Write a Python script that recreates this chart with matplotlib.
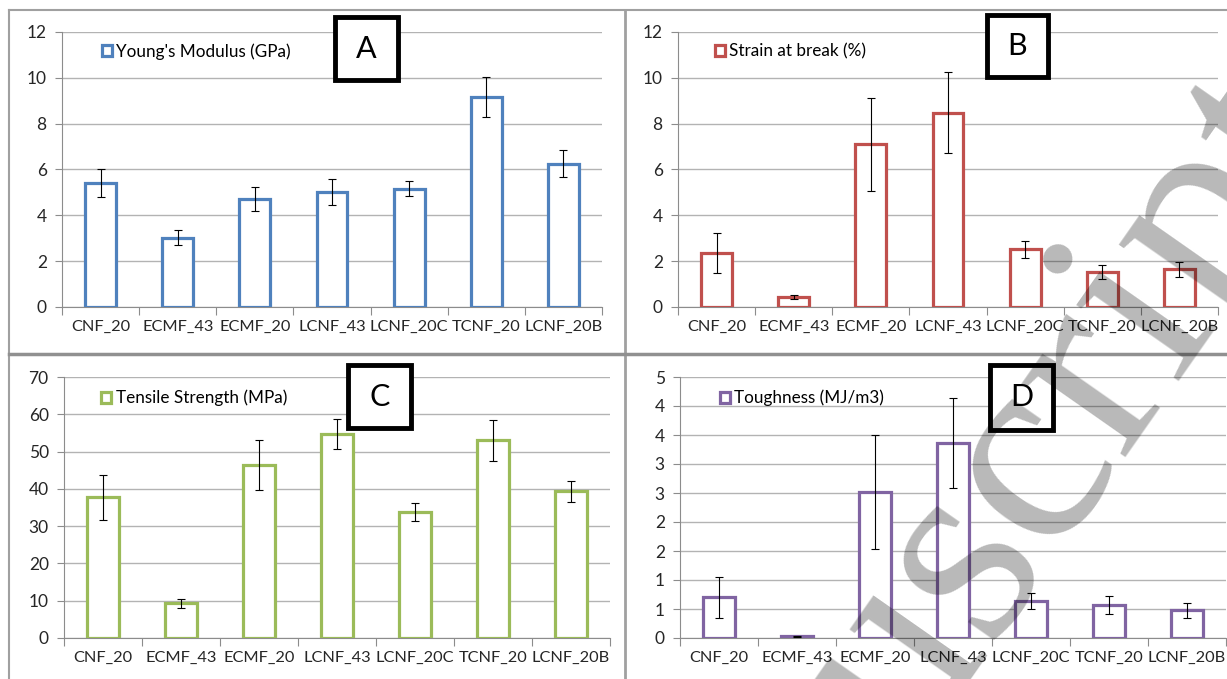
import matplotlib
matplotlib.use("Agg")
import matplotlib.pyplot as plt
from matplotlib.patches import Patch, Rectangle
from matplotlib.lines import Line2D
import numpy as np

categories = ["CNF_20", "ECMF_43", "ECMF_20", "LCNF_43", "LCNF_20C", "TCNF_20", "LCNF_20B"]

youngs = [5.43, 3.03, 4.73, 5.02, 5.16, 9.16, 6.26]
youngs_err = [0.61, 0.31, 0.52, 0.55, 0.33, 0.89, 0.59]

strain = [2.35, 0.44, 7.10, 8.47, 2.52, 1.53, 1.65]
strain_err = [0.87, 0.07, 2.04, 1.77, 0.38, 0.30, 0.32]

tensile = [37.7, 9.3, 46.4, 54.8, 33.9, 53.0, 39.4]
tensile_err = [6.1, 1.2, 6.6, 4.0, 2.4, 5.6, 2.8]

toughness = [0.70, 0.03, 2.52, 3.36, 0.64, 0.57, 0.48]
toughness_err = [0.35, 0.01, 0.98, 0.77, 0.14, 0.15, 0.13]
toughness_ticks = [0, 0.5, 1, 1.5, 2, 2.5, 3, 3.5, 4, 4.5]
toughness_ticklabels = ["0", "1", "1", "2", "2", "3", "3", "4", "4", "5"]

W, H = 1227, 679
FONT = "Lato"
GRID = "#b3b3b3"
AXIS = "#8c8c8c"

fig = plt.figure(figsize=(W / 100, H / 100), dpi=100)
fig.patch.set_facecolor("white")


def px_rect(x0, y0, x1, y1):
    # image pixel box (top-left origin) -> figure fraction [l, b, w, h]
    return [x0 / W, 1 - y1 / H, (x1 - x0) / W, (y1 - y0) / H]


def panel(rect, values, errors, color, label, yticks, yticklabels, legend_xy):
    ax = fig.add_axes(rect)
    x = np.arange(len(categories))
    ax.bar(x, values, width=0.4, facecolor="white", edgecolor=color, linewidth=2.3, zorder=3)
    ax.errorbar(x, values, yerr=errors, fmt="none", ecolor="black", elinewidth=0.8,
                capsize=3, capthick=0.8, zorder=4)
    ax.set_xlim(-0.5, len(categories) - 0.5)
    ax.set_ylim(yticks[0], yticks[-1])
    ax.set_yticks(yticks)
    ax.set_yticklabels(yticklabels)
    ax.set_xticks(np.arange(len(categories) + 1) - 0.5)
    ax.set_xticklabels([])
    ax.set_xticks(x, minor=True)
    ax.set_xticklabels(categories, minor=True)
    ax.tick_params(axis="x", which="major", length=6, color=AXIS, direction="out")
    ax.tick_params(axis="x", which="minor", length=0, pad=9, labelsize=11.8)
    ax.tick_params(axis="y", length=5, color=AXIS, pad=6, labelsize=12.5)
    ax.tick_params(which="both", labelcolor="#262626")
    for t in ax.get_xticklabels(minor=True) + ax.get_yticklabels():
        t.set_family(FONT)
    ax.grid(axis="y", color=GRID, linewidth=1.0, zorder=0)
    ax.set_axisbelow(True)
    for s in ["top", "right"]:
        ax.spines[s].set_visible(False)
    ax.spines["left"].set_color(AXIS)
    ax.spines["bottom"].set_color(AXIS)
    ax.patch.set_alpha(0)
    ax.legend([Patch(facecolor="white", edgecolor=color, linewidth=2.3)], [label],
              loc="center left", bbox_to_anchor=legend_xy, frameon=False,
              handlelength=0.6, handleheight=0.6, handletextpad=0.25,
              prop={"family": FONT, "size": 12.3})
    return ax


panel(px_rect(62, 32, 602, 307), youngs, youngs_err, "#4f81bd",
      "Young's Modulus (GPa)", list(range(0, 13, 2)), [str(v) for v in range(0, 13, 2)], (0.045, 0.93))
panel(px_rect(678, 32, 1218, 307), strain, strain_err, "#c0504d",
      "Strain at break (%)", list(range(0, 13, 2)), [str(v) for v in range(0, 13, 2)], (0.04, 0.93))
panel(px_rect(64, 377, 610, 638), tensile, tensile_err, "#9bbb59",
      "Tensile Strength (MPa)", list(range(0, 71, 10)), [str(v) for v in range(0, 71, 10)], (0.04, 0.92))
panel(px_rect(680, 377, 1226, 638), toughness, toughness_err, "#8064a2",
      "Toughness (MJ/m3)", toughness_ticks, toughness_ticklabels, (0.045, 0.92))


def fig_line(x0, y0, x1, y1, lw, color="#a0a0a0"):
    fig.add_artist(Line2D([x0 / W, x1 / W], [1 - y0 / H, 1 - y1 / H],
                          transform=fig.transFigure, color=color, linewidth=lw))


# panel frames
fig_line(9, 10, W, 10, 1.5)
fig_line(9, 10, 9, H, 1.5)
fig_line(625, 10, 625, H, 2.0)
fig_line(9, 354, W, 354, 2.5, "#909090")

# letter boxes
for letter, (x0, y0, x1, y1) in zip("ABCD", [(335, 17, 398, 80), (987, 15, 1048, 77),
                                               (348, 365, 411, 428), (990, 365, 1053, 430)]):
    l, b, w, h = px_rect(x0, y0, x1, y1)
    fig.add_artist(Rectangle((l, b), w, h, transform=fig.transFigure, facecolor="white",
                             edgecolor="black", linewidth=3.5, zorder=5))
    fig.text(l + w / 2, b + h / 2, letter, ha="center", va="center", fontsize=22,
             family=FONT, zorder=6)

# watermark
fig.text(923 / W, 1 - 618 / H, "Manuscript", rotation=55, rotation_mode="anchor",
         ha="center", va="center", fontsize=200, family="Liberation Serif",
         color="black", alpha=0.28, zorder=10)

fig.savefig("out.png", dpi=100)
